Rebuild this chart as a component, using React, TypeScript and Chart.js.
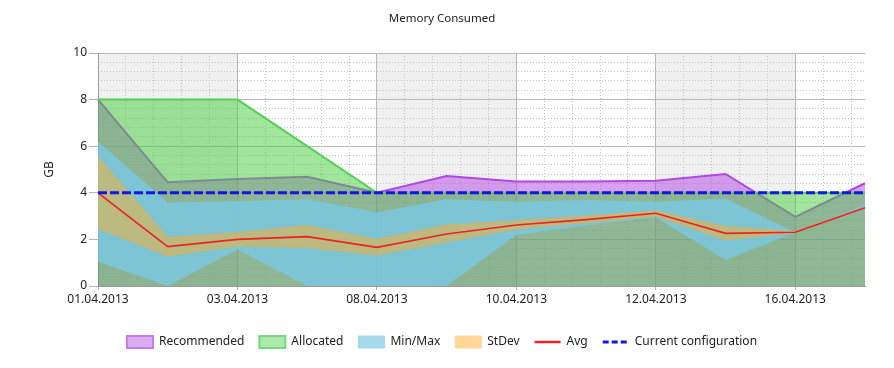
import React, { useEffect, useRef } from 'react';
import { Chart, registerables } from 'chart.js';

Chart.register(...registerables);

// ---- data ----
const dateLabels = ['01.04.2013', '', '03.04.2013', '', '08.04.2013', '', '10.04.2013', '', '12.04.2013', '', '16.04.2013', ''];
const recommended = [8.0, 4.45, 4.59, 4.69, 4.0, 4.72, 4.48, 4.48, 4.52, 4.81, 2.97, 4.41];
const allocated = [8, 8, 8, 6, 4, 4, 4, 4, 4, 4, 4, 4];
const maxValues = [6.2, 3.58, 3.65, 3.72, 3.16, 3.72, 3.62, 3.69, 3.62, 3.76, 2.3, 3.48];
const minValues = [1.04, 0, 1.57, 0, 0, 0, 2.19, 2.6, 2.95, 1.12, 2.3, 3.3];
const stdevHigh = [5.55, 2.09, 2.29, 2.59, 2.0, 2.62, 2.79, 3.0, 3.22, 2.55, 2.33, 3.36];
const avgValues = [4.0, 1.69, 2.0, 2.12, 1.66, 2.23, 2.62, 2.85, 3.12, 2.26, 2.31, 3.36];
const stdevLow = [2.47, 1.29, 1.72, 1.66, 1.33, 1.9, 2.45, 2.72, 3.0, 1.97, 2.3, 3.36];
const currentConfig = [4, 4, 4, 4, 4, 4, 4, 4, 4, 4, 4, 4];
const yTicks = { min: 0, max: 10, step: 2 };

const FONT = "'Noto Sans', 'DejaVu Sans', sans-serif";
const TEXT = '#222222';

const bandPlugin = {
  id: 'bands',
  beforeDraw(chart: any) {
    const { ctx, chartArea, scales } = chart;
    const x = scales.x;
    const last = dateLabels.length - 1;
    ctx.save();
    ctx.fillStyle = '#f0f0f0';
    for (let i = 0; i < last; i += 4) {
      const x1 = x.getPixelForValue(i);
      const x2 = x.getPixelForValue(Math.min(i + 2, last));
      ctx.fillRect(x1, chartArea.top, x2 - x1, chartArea.bottom - chartArea.top);
    }
    ctx.restore();
  },
};

export default function App() {
  const ref = useRef<HTMLCanvasElement>(null);

  useEffect(() => {
    if (!ref.current) return;
    Chart.defaults.font.family = FONT;
    Chart.defaults.font.size = 12;
    Chart.defaults.color = TEXT;

    const common = { xAxisID: 'x', yAxisID: 'y', pointRadius: 0, pointHoverRadius: 0, tension: 0 };

    const chart = new Chart(ref.current, {
      type: 'line',
      data: {
        labels: dateLabels,
        datasets: [
          { ...common, label: 'Current configuration', data: currentConfig, borderColor: '#1414e6', borderWidth: 3, borderDash: [9, 3], fill: false },
          { ...common, label: 'Avg', data: avgValues, borderColor: '#f02020', borderWidth: 1.6, fill: false },
          { ...common, label: 'StDev', data: stdevHigh, borderColor: 'rgba(250,170,50,0.55)', borderWidth: 1, backgroundColor: 'rgba(241,178,60,0.55)', fill: '+1' },
          { ...common, label: 'StDevLow', data: stdevLow, borderColor: 'rgba(250,170,50,0.55)', borderWidth: 1, fill: false },
          { ...common, label: 'Min/Max', data: maxValues, borderWidth: 0, borderColor: 'rgba(0,0,0,0)', backgroundColor: 'rgba(121,200,230,0.8)', fill: '+1' },
          { ...common, label: 'Min', data: minValues, borderWidth: 0, borderColor: 'rgba(0,0,0,0)', fill: false },
          { ...common, label: 'Allocated', data: allocated, borderColor: '#55d055', borderWidth: 2, backgroundColor: 'rgba(70,205,60,0.5)', fill: 'origin' },
          { ...common, label: 'Recommended', data: recommended, borderColor: '#b048e0', borderWidth: 2, backgroundColor: 'rgba(180,70,225,0.5)', fill: 'origin' },
        ],
      },
      options: {
        animation: false,
        responsive: true,
        maintainAspectRatio: false,
        layout: { padding: { left: 0, right: 10, top: 0, bottom: 10 } },
        plugins: {
          tooltip: { enabled: false },
          title: {
            display: true,
            text: 'Memory Consumed',
            color: TEXT,
            font: { size: 11.5, weight: 'normal', family: FONT },
            padding: { top: 12, bottom: 27.2 },
          },
          legend: {
            display: true,
            position: 'bottom',
            labels: {
              usePointStyle: true,
              pointStyleWidth: 26,
              padding: 15,
              color: TEXT,
              font: { size: 12, family: FONT },
              generateLabels: () => [
                { text: 'Recommended', fillStyle: 'rgb(220,172,242)', strokeStyle: 'rgb(200,125,235)', lineWidth: 2, pointStyle: 'rect', lineDash: [], hidden: false, datasetIndex: 7, fontColor: TEXT },
                { text: 'Allocated', fillStyle: 'rgb(172,232,172)', strokeStyle: 'rgb(120,215,120)', lineWidth: 2, pointStyle: 'rect', lineDash: [], hidden: false, datasetIndex: 6, fontColor: TEXT },
                { text: 'Min/Max', fillStyle: 'rgb(166,216,236)', strokeStyle: 'rgb(166,216,236)', lineWidth: 1, pointStyle: 'rect', lineDash: [], hidden: false, datasetIndex: 4, fontColor: TEXT },
                { text: 'StDev', fillStyle: 'rgb(255,215,150)', strokeStyle: 'rgb(255,215,150)', lineWidth: 1, pointStyle: 'rect', lineDash: [], hidden: false, datasetIndex: 2, fontColor: TEXT },
                { text: 'Avg', fillStyle: 'rgba(0,0,0,0)', strokeStyle: '#f02020', lineWidth: 2.5, pointStyle: 'line', lineDash: [], hidden: false, datasetIndex: 1, fontColor: TEXT },
                { text: 'Current configuration', fillStyle: 'rgba(0,0,0,0)', strokeStyle: '#1414e6', lineWidth: 3, pointStyle: 'line', lineDash: [6, 3], hidden: false, datasetIndex: 0, fontColor: TEXT },
              ] as any,
            },
          },
        },
        scales: {
          x: {
            type: 'category',
            position: 'bottom',
            offset: false,
            grid: {
              color: (c: any) => (c.index % 2 === 0 ? '#b4b4b4' : 'rgba(0,0,0,0)'),
              tickLength: 4,
            },
            border: { color: '#9a9a9a' },
            ticks: { autoSkip: false, maxRotation: 0, minRotation: 0, padding: 2, color: TEXT, font: { size: 12, family: FONT } },
            afterFit: (s: any) => { s.height = 35; },
          },
          y: {
            type: 'linear',
            position: 'left',
            min: yTicks.min,
            max: yTicks.max,
            ticks: { stepSize: yTicks.step, padding: 2, color: TEXT, font: { size: 12, family: FONT } },
            grid: { color: '#b4b4b4', tickLength: 9 },
            border: { color: '#9a9a9a' },
            title: { display: true, text: 'GB', color: TEXT, font: { size: 12, family: FONT }, padding: { top: 42, bottom: 0 } },
            afterFit: (s: any) => { s.width = 98; },
          },
          xMinor: {
            type: 'linear',
            position: 'bottom',
            min: 0,
            max: dateLabels.length - 1,
            ticks: { display: false, stepSize: 0.4, includeBounds: false },
            grid: { color: '#c2c2c2', drawTicks: false },
            border: { display: false, dash: [1, 2] },
            afterFit: (s: any) => { s.height = 0; },
          },
          yMinor: {
            type: 'linear',
            position: 'left',
            min: yTicks.min,
            max: yTicks.max,
            ticks: { display: false, stepSize: 0.4 },
            grid: { color: '#c2c2c2', drawTicks: false },
            border: { display: false, dash: [1, 2] },
            afterFit: (s: any) => { s.width = 0; },
          },
          yRight: {
            type: 'linear',
            position: 'right',
            min: 0,
            max: 10,
            grid: { display: false },
            ticks: { display: false },
            border: { display: false },
            afterFit: (s: any) => { s.width = 19; },
          },
        },
      } as any,
      plugins: [bandPlugin],
    });
    return () => chart.destroy();
  }, []);

  return (
    <div style={{ position: 'fixed', left: 0, top: 0, width: 894, height: 368, background: '#fff' }}>
      <canvas ref={ref} />
    </div>
  );
}
